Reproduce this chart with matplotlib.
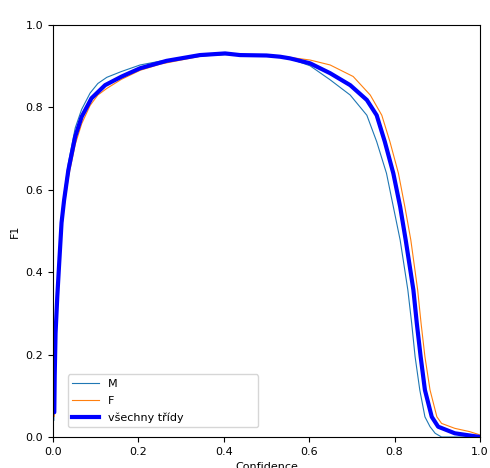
import numpy as np
import matplotlib
matplotlib.use("Agg")
import matplotlib.pyplot as plt

# F1-confidence curves
conf_m = [0.0, 0.002, 0.004, 0.006, 0.01, 0.014, 0.02, 0.026, 0.036, 0.052, 0.067,
          0.087, 0.105, 0.126, 0.16, 0.204, 0.25, 0.3, 0.35, 0.4, 0.45, 0.5, 0.55,
          0.602, 0.649, 0.696, 0.735, 0.758, 0.781, 0.797, 0.813, 0.831, 0.84,
          0.848, 0.859, 0.871, 0.883, 0.895, 0.91, 1.0]
f1_m = [0.04, 0.04, 0.15, 0.25, 0.34, 0.42, 0.53, 0.59, 0.665, 0.75, 0.795,
        0.835, 0.858, 0.873, 0.887, 0.903, 0.912, 0.918, 0.925, 0.928, 0.928, 0.926, 0.92,
        0.901, 0.867, 0.83, 0.781, 0.717, 0.64, 0.559, 0.478, 0.357, 0.276,
        0.195, 0.114, 0.049, 0.025, 0.009, 0.0, 0.0]

conf_f = [0.0, 0.003, 0.006, 0.01, 0.014, 0.02, 0.026, 0.036, 0.052, 0.067, 0.087,
          0.105, 0.126, 0.16, 0.204, 0.251, 0.3, 0.35, 0.4, 0.45, 0.5, 0.55, 0.602,
          0.649, 0.703, 0.743, 0.77, 0.789, 0.809, 0.824, 0.838, 0.854, 0.862,
          0.871, 0.883, 0.899, 0.91, 0.941, 0.976, 1.0]
f1_f = [0.05, 0.05, 0.25, 0.33, 0.4, 0.5, 0.56, 0.63, 0.71, 0.76, 0.805,
        0.83, 0.846, 0.868, 0.89, 0.905, 0.915, 0.925, 0.929, 0.928, 0.927, 0.922, 0.915,
        0.903, 0.875, 0.83, 0.781, 0.717, 0.64, 0.559, 0.478, 0.357, 0.276,
        0.195, 0.114, 0.049, 0.033, 0.021, 0.013, 0.005]

conf_all = [0.0, 0.003, 0.004, 0.006, 0.01, 0.014, 0.02, 0.026, 0.036, 0.052, 0.067,
            0.09, 0.122, 0.161, 0.204, 0.266, 0.344, 0.403, 0.438, 0.5, 0.532, 0.555,
            0.602, 0.649, 0.696, 0.735, 0.758, 0.777, 0.797, 0.813, 0.826, 0.844,
            0.852, 0.861, 0.871, 0.887, 0.902, 0.941, 1.0]
f1_all = [0.06, 0.06, 0.15, 0.252, 0.34, 0.413, 0.52, 0.575, 0.648, 0.729, 0.777,
          0.822, 0.854, 0.875, 0.895, 0.913, 0.927, 0.931, 0.927, 0.926, 0.923, 0.919,
          0.907, 0.883, 0.854, 0.818, 0.781, 0.717, 0.64, 0.559, 0.478, 0.357,
          0.276, 0.195, 0.114, 0.049, 0.025, 0.009, 0.0]

plt.rcParams['font.size'] = 8

fig = plt.figure(figsize=(4.9, 4.68), dpi=100)
ax = fig.add_axes([53 / 490, 31 / 468, 427 / 490, 412 / 468])

ax.plot(conf_m, f1_m, linewidth=0.8, label="M")
ax.plot(conf_f, f1_f, linewidth=0.8, label="F")
ax.plot(conf_all, f1_all, linewidth=3, color="blue", label="všechny třídy")

ax.set_xlim(0, 1)
ax.set_ylim(0, 1)
ax.set_xlabel("Confidence")
ax.set_ylabel("F1")
ax.legend(loc="lower left", bbox_to_anchor=(0.035, 0.024, 0.445, 0.14),
          mode="expand", borderaxespad=0, handlelength=2.4, labelspacing=0.6)

fig.savefig("out.png", dpi=100)
